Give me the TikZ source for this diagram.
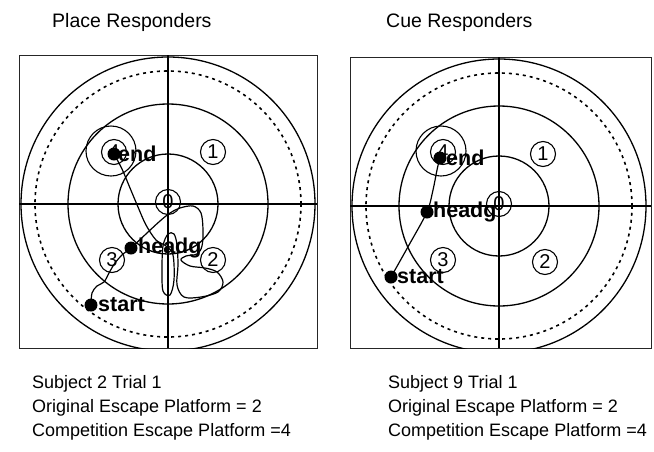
\documentclass[tikz,border=0pt]{standalone}
\usepackage{fontspec}
\setmainfont{Liberation Sans}
\begin{document}
\begin{tikzpicture}[x=1pt,y=-1pt,
  boxline/.style={line width=1pt, draw=black!85},
  arena/.style={line width=1.3pt},
  dashring/.style={line width=1.6pt, dash pattern=on 3pt off 4pt},
  plat/.style={circle, draw, line width=1.1pt, minimum size=25pt, inner sep=0pt, font=\fontsize{20}{20}\selectfont},
  ring/.style={circle, draw, line width=1.1pt, minimum size=50pt, inner sep=0pt},
  dot/.style={circle, fill=black, minimum size=13pt, inner sep=0pt},
  lab/.style={anchor=west, inner sep=0pt, font=\bfseries\fontsize{21.5}{21.5}\selectfont},
  trajline/.style={line width=1.2pt, line join=round, line cap=round},
  titletext/.style={anchor=west, inner sep=0pt, font=\fontsize{19.5}{20}\selectfont},
  infotext/.style={anchor=base west, inner sep=0pt, font=\fontsize{18}{20}\selectfont}
]
\useasboundingbox (0,0) rectangle (654,451);

% ---------- titles ----------
\node[titletext] (tl) at (52,22) {Place Responders};
\node[titletext] (tr) at (386,22) {Cue Responders};

% ---------- left arena ----------
\draw[boxline] (19,55) rectangle (317,348);
\begin{scope}
  \clip (19,55) rectangle (317,348);
  \draw[arena] (168,204) circle[radius=147pt];
\end{scope}
\draw[dashring] (168,204) circle[radius=133pt];
\draw[arena] (168,204) circle[radius=100pt];
\draw[arena] (168,204) circle[radius=50pt];
\draw[arena] (168,55) -- (168,348);
\draw[arena] (19,204) -- (317,204);

\node[plat, fill=white] (L1) at (213,152) {1};
\node[plat] (L0) at (168,202) {0};
\node[plat] (L2) at (213,260) {2};
\node[plat, fill=white] (L3) at (112,260) {3};
\node[plat] (L4) at (114,152) {4};
\node[ring] (L4r) at (111,151) {};

\draw[trajline] plot[smooth, tension=0.55] coordinates {
  (91,305) (92,293) (97,286) (104,282) (109,273) (115,263) (123,254) (131,248)
  (147,233) (160,221) (170,213) (180,208) (193,206) (201,213) (203,230) (202,246)
  (197,254) (186,256) (181,260) (190,266) (205,268) (217,272) (223,282) (218,292)
  (201,297) (184,297) (177,285) (178,265) (177,245) (174,234) (168,234) (163,246)
  (162,270) (163,291) (170,295) (174,280) (173,255) (166,246) (156,240) (146,225)
  (138,207) (130,188) (122,169) (114,154)};

\node[dot] (Lend) at (114,154) {};
\node[dot] (Lhead) at (131,248) {};
\node[dot] (Lstart) at (91,305) {};
\node[lab] (Lendt) at ([xshift=4pt]Lend.center) {end};
\node[lab] (Lheadt) at ([xshift=7pt]Lhead.center) {headg};
\node[lab] (Lstartt) at ([xshift=7pt]Lstart.center) {start};

% ---------- right arena ----------
\draw[boxline] (350,57) rectangle (651,348);
\begin{scope}
  \clip (350,57) rectangle (651,348);
  \draw[arena] (499,206) circle[radius=147pt];
\end{scope}
\draw[dashring] (499,206) circle[radius=133pt];
\draw[arena] (499,206) circle[radius=100pt];
\draw[arena] (499,206) circle[radius=50pt];
\draw[arena] (499,57) -- (499,348);
\draw[arena] (350,206) -- (651,206);

\node[plat, fill=white] (R1) at (543,154) {1};
\node[plat] (R0) at (499,204) {0};
\node[plat, fill=white] (R2) at (545,262) {2};
\node[plat, fill=white] (R3) at (443,260) {3};
\node[plat] (R4) at (443,152) {4};
\node[ring] (R4r) at (441,151) {};

\draw[trajline] plot[smooth, tension=0.5] coordinates {
  (391,277) (409,245) (427,212) (433,190) (437,170) (440,157)};

\node[dot] (Rend) at (440,158) {};
\node[dot] (Rhead) at (427,212) {};
\node[dot] (Rstart) at (391,277) {};
\node[lab] (Rendt) at ([xshift=6pt]Rend.center) {end};
\node[lab] (Rheadt) at ([xshift=6pt]Rhead.center) {headg};
\node[lab] (Rstartt) at ([xshift=6pt]Rstart.center) {start};

% ---------- captions ----------
\node[infotext] (c1a) at (32,388) {Subject 2 Trial 1};
\node[infotext] (c1b) at (32,412) {Original Escape Platform = 2};
\node[infotext] (c1c) at (32,436) {Competition Escape Platform =4};
\node[infotext] (c2a) at (388,388) {Subject 9 Trial 1};
\node[infotext] (c2b) at (388,412) {Original Escape Platform = 2};
\node[infotext] (c2c) at (388,436) {Competition Escape Platform =4};
\end{tikzpicture}
\end{document}
